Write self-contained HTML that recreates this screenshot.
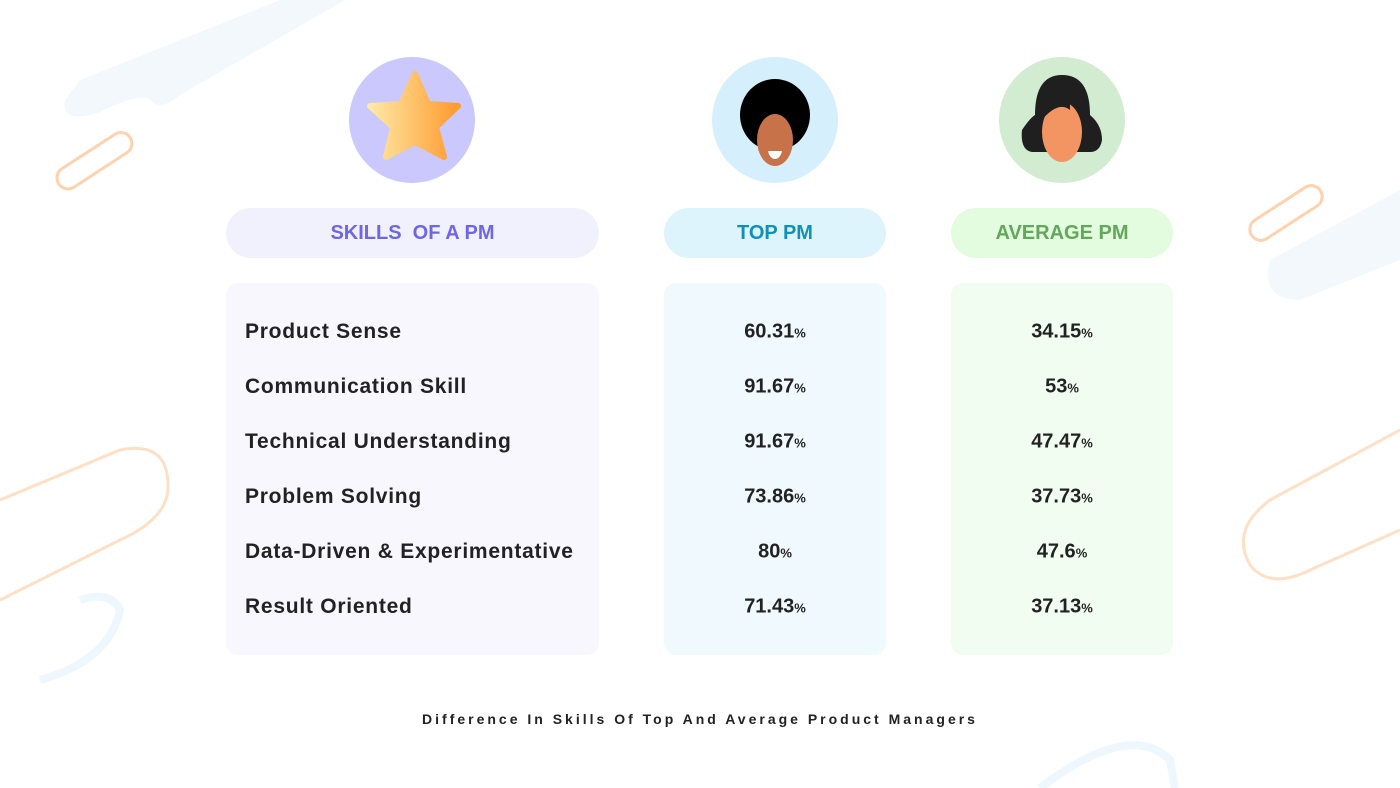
<!DOCTYPE html>
<html><head><meta charset="utf-8"><style>
body{margin:0;width:1400px;height:788px;background:#fff;position:relative;overflow:hidden;font-family:"Liberation Sans",sans-serif;}
.a{position:absolute}
.pill{position:absolute;top:208px;height:50px;border-radius:25px;display:flex;align-items:center;justify-content:center;font-weight:bold;font-size:20px}
.panel{position:absolute;top:283px;height:372px;border-radius:12px}
.lab{position:absolute;left:245px;font-weight:bold;font-size:21px;letter-spacing:0.75px;color:#222;transform:translateY(-50%)}
.v{position:absolute;width:222px;text-align:center;font-weight:bold;font-size:20px;color:#222;transform:translateY(-50%)}
.v small{font-size:13px}
</style></head><body>
<svg class="a" style="left:0;top:0" width="1400" height="788">
<path d="M80 80 L330 -20 L380 -20 L180 95 Q160 112 150 100 Q140 92 100 112 Q60 125 65 100 Z" fill="#f3f8fd"/>
<rect x="52" y="150" width="85" height="22" rx="11" transform="rotate(-33 94 161)" fill="none" stroke="#fdd2b0" stroke-width="3"/>
<rect x="1245" y="202" width="82" height="22" rx="11" transform="rotate(-33 1286 213)" fill="none" stroke="#fdd2b0" stroke-width="3"/>
<path d="M1270 260 L1400 190 L1400 260 L1300 300 Q1260 300 1270 260Z" fill="#f3f8fd"/>
<path d="M0 500 L120 450 Q170 440 168 490 Q165 520 120 540 L0 600" fill="none" stroke="#fde0c6" stroke-width="3"/>
<path d="M1400 430 L1270 500 Q1230 530 1250 565 Q1270 590 1310 570 L1400 530" fill="none" stroke="#fde0c6" stroke-width="3"/>
<path d="M40 680 Q110 660 120 610 Q110 590 80 600" fill="none" stroke="#eef7fd" stroke-width="8"/>
<path d="M1040 788 Q1130 720 1170 760 L1175 788" fill="none" stroke="#eef7fd" stroke-width="8"/>
<circle cx="412" cy="120" r="63" fill="#cac8fd"/>
<defs><linearGradient id="g" x1="0" x2="1"><stop offset="0" stop-color="#ffe9a6"/><stop offset="1" stop-color="#ff9a2e"/></linearGradient></defs>
<polygon points="415,74 428,104 458,106 436,127 444,157 415,142 386,157 393,127 370,106 401,104" fill="url(#g)" stroke="url(#g)" stroke-width="6" stroke-linejoin="round"/>
<circle cx="775" cy="120" r="63" fill="#d5f0fc"/>
<ellipse cx="775" cy="115" rx="35" ry="36" fill="#000"/>
<ellipse cx="775" cy="140" rx="18" ry="26" fill="#c8724a"/>
<path d="M768 151 h14 q-2 8 -7 8 q-5 0 -7 -8z" fill="#fff"/>
<circle cx="1062" cy="120" r="63" fill="#d1ecd0"/>
<path d="M1032 152 Q1020 150 1022 130 Q1030 118 1035 115 Q1035 75 1062 75 Q1090 75 1090 115 Q1102 125 1102 140 Q1100 152 1090 152Z" fill="#1f1f1f"/>
<ellipse cx="1062" cy="132" rx="20" ry="30" fill="#f39562"/>
<path d="M1040 120 Q1045 80 1070 85 L1070 110 Q1058 100 1040 122Z" fill="#1f1f1f"/>
</svg>
<div class="pill" style="left:226px;width:373px;background:#f1f0fd;color:#6e66e6">SKILLS&nbsp; OF A PM</div>
<div class="pill" style="left:664px;width:222px;background:#ddf4fd;color:#1390b8">TOP PM</div>
<div class="pill" style="left:951px;width:222px;background:#e3fbde;color:#62a85a">AVERAGE PM</div>
<div class="panel" style="left:226px;width:373px;background:#f8f7fe"></div>
<div class="panel" style="left:664px;width:222px;background:#f0f9fe"></div>
<div class="panel" style="left:951px;width:222px;background:#f2fdf1"></div>
<div class="lab" style="top:332px">Product Sense</div>
<div class="lab" style="top:387px">Communication Skill</div>
<div class="lab" style="top:442px">Technical Understanding</div>
<div class="lab" style="top:497px">Problem Solving</div>
<div class="lab" style="top:552px">Data-Driven &amp; Experimentative</div>
<div class="lab" style="top:607px">Result Oriented</div>
<div class="v" style="left:664px;top:332px">60.31<small>%</small></div>
<div class="v" style="left:664px;top:387px">91.67<small>%</small></div>
<div class="v" style="left:664px;top:442px">91.67<small>%</small></div>
<div class="v" style="left:664px;top:497px">73.86<small>%</small></div>
<div class="v" style="left:664px;top:552px">80<small>%</small></div>
<div class="v" style="left:664px;top:607px">71.43<small>%</small></div>
<div class="v" style="left:951px;top:332px">34.15<small>%</small></div>
<div class="v" style="left:951px;top:387px">53<small>%</small></div>
<div class="v" style="left:951px;top:442px">47.47<small>%</small></div>
<div class="v" style="left:951px;top:497px">37.73<small>%</small></div>
<div class="v" style="left:951px;top:552px">47.6<small>%</small></div>
<div class="v" style="left:951px;top:607px">37.13<small>%</small></div>
<div class="a" style="left:0;width:1400px;top:711px;text-align:center;font-size:14px;font-weight:bold;letter-spacing:3px;color:#222">Difference In Skills Of Top And Average Product Managers</div>
</body></html>
